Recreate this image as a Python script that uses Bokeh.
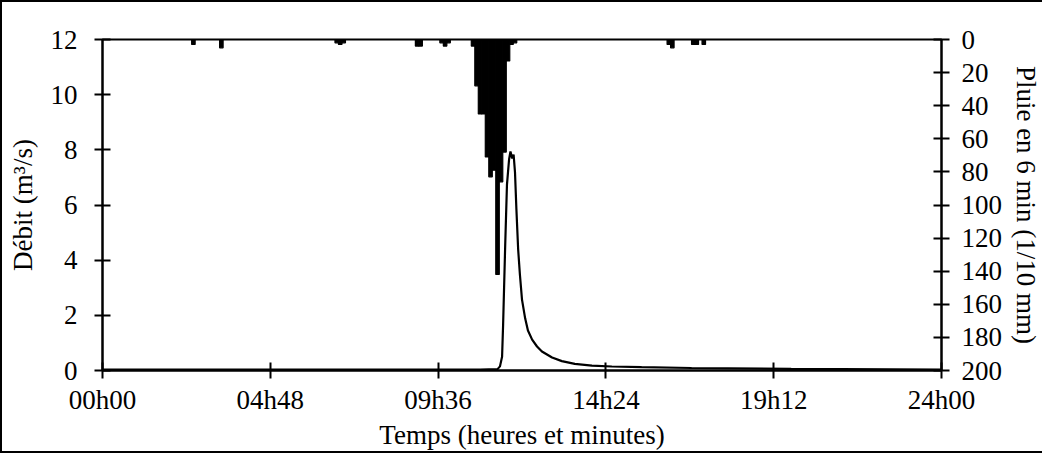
from bokeh.plotting import figure
from bokeh.models import Range1d, LinearAxis, FixedTicker, ColumnDataSource
from bokeh.embed import file_html
from bokeh.resources import INLINE

# ---- data ----
x_ticks = [0, 4.8, 9.6, 14.4, 19.2, 24.0]
x_tick_labels = ["00h00", "04h48", "09h36", "14h24", "19h12", "24h00"]
q_ticks = [0, 2, 4, 6, 8, 10, 12]
rain_ticks = [0, 20, 40, 60, 80, 100, 120, 140, 160, 180, 200]

# rainfall per 6 min (1/10 mm), time = bin centre in hours
rain_time = [2.6, 3.4, 6.7, 6.8, 6.9, 9.0, 9.1, 9.7, 9.8, 9.9,
             10.6, 10.7, 10.8, 10.9, 11.0, 11.1, 11.2, 11.3, 11.4, 11.5, 11.6, 11.7, 11.8,
             16.2, 16.3, 16.9, 17.0, 17.2]
rain_value = [3, 5, 2, 3, 2, 4, 4, 2, 4, 2,
              4, 28, 45, 45, 71, 83, 79, 142, 86, 68, 13, 3, 2,
              3, 5, 3, 3, 3]

# discharge (m3/s), time in hours
flow_time = [0.0, 10.8, 11.3, 11.37, 11.43, 11.46, 11.52, 11.57, 11.63, 11.67, 11.72,
             11.76, 11.80, 11.84, 11.89, 11.94, 12.0, 12.09, 12.17, 12.29, 12.43,
             12.57, 12.86, 13.14, 13.51, 14.0, 14.57, 15.42, 16.85, 19.7, 24.0]
flow_q = [0.03, 0.03, 0.05, 0.15, 0.5, 1.67, 4.57, 6.74, 7.65, 7.94, 7.69,
          7.83, 7.18, 5.84, 4.39, 3.48, 2.57, 1.89, 1.45, 1.12, 0.87,
          0.69, 0.47, 0.34, 0.24, 0.18, 0.145, 0.12, 0.09, 0.06, 0.03]

FONT = "Liberation Serif"
FS = "27px"

p = figure(width=1042, height=453, x_range=Range1d(0, 24), y_range=Range1d(0, 12),
           output_backend="svg", toolbar_location=None,
           min_border_left=100, min_border_right=99, min_border_top=37, min_border_bottom=85)
p.extra_y_ranges = {"rain": Range1d(200, 0)}
p.styles = {"border-left": "2px solid black", "border-top": "2px solid black",
            "border-bottom": "2px solid black"}

p.xgrid.visible = False
p.ygrid.visible = False
p.background_fill_color = "white"
p.border_fill_color = "white"
p.outline_line_color = "black"
p.outline_line_width = 2

rain_src = ColumnDataSource(dict(t=rain_time, v=rain_value))
p.vbar(x="t", width=0.1, bottom=0, top="v", source=rain_src, y_range_name="rain",
       fill_color="black", line_color="black", line_width=1.2)

flow_src = ColumnDataSource(dict(t=flow_time, q=flow_q))
p.line(x="t", y="q", source=flow_src, line_color="black", line_width=2.2)

def style_axis(ax):
    ax.axis_line_color = "black"
    ax.axis_line_width = 2
    ax.major_tick_line_color = "black"
    ax.major_tick_line_width = 2
    ax.major_tick_in = 8
    ax.major_tick_out = 8
    ax.minor_tick_line_color = None
    ax.major_label_text_font = FONT
    ax.major_label_text_font_size = FS
    ax.major_label_text_color = "black"
    ax.axis_label_text_font = FONT
    ax.axis_label_text_font_size = FS
    ax.axis_label_text_font_style = "normal"
    ax.axis_label_text_color = "black"

xa = p.xaxis[0]
style_axis(xa)
xa.ticker = FixedTicker(ticks=x_ticks)
xa.major_label_overrides = {t: l for t, l in zip(x_ticks, x_tick_labels)}
xa.axis_label = "Temps (heures et minutes)"
xa.major_label_standoff = 6
xa.axis_label_standoff = 2

ya = p.yaxis[0]
style_axis(ya)
ya.ticker = FixedTicker(ticks=q_ticks)
ya.axis_label = "Débit (m³/s)"
ya.major_label_standoff = 17
ya.axis_label_standoff = 10

ra = LinearAxis(y_range_name="rain", axis_label="Pluie en 6 min (1/10 mm)")
style_axis(ra)
ra.ticker = FixedTicker(ticks=rain_ticks)
ra.major_label_standoff = 12
ra.axis_label_standoff = 6
p.add_layout(ra, "right")

open("out.html", "w").write(file_html(p, INLINE))
